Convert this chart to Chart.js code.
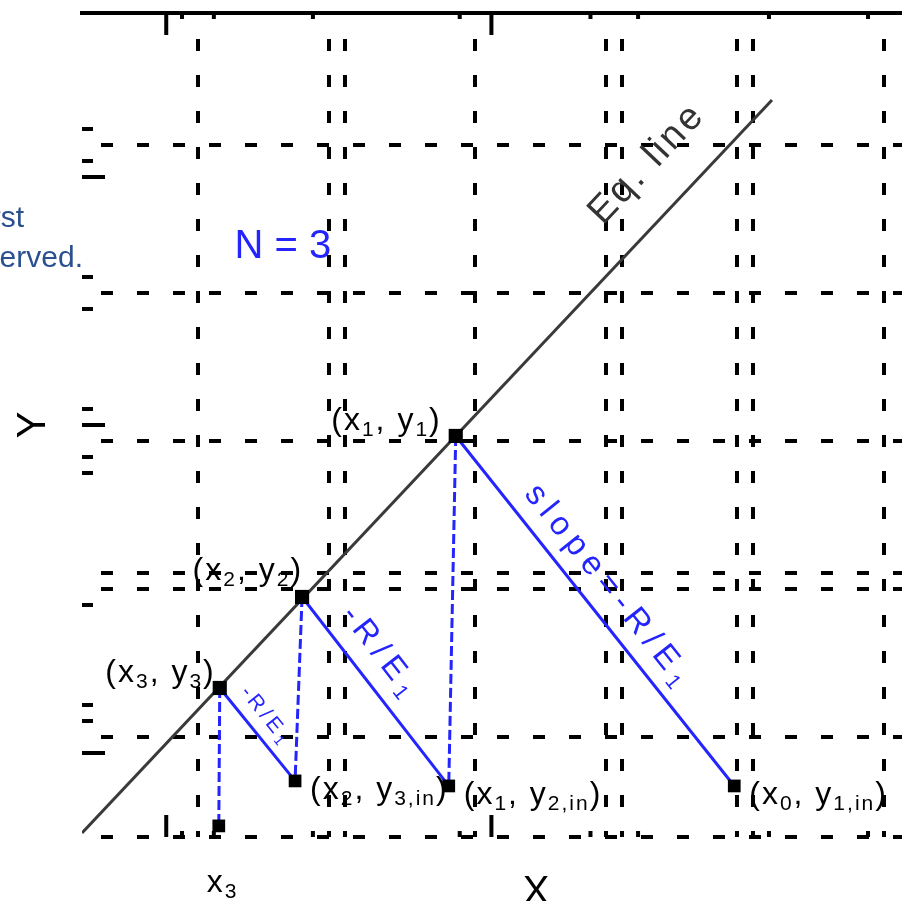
<!DOCTYPE html>
<html>
<head>
<meta charset="utf-8">
<script src="https://cdn.jsdelivr.net/npm/chart.js@4.4.1/dist/chart.umd.min.js"></script>
<style>
  html, body { margin: 0; padding: 0; overflow: hidden; background: #fff; }
  #wrap { position: relative; width: 1000px; height: 917px; }
</style>
</head>
<body>
<div id="wrap"><canvas id="chart"></canvas></div>
<script>
// equilibrium line (end points)
const eqX = [0.155, 5.184];
const eqY = [0.351, 5.304];
// stage points on the eq. line: (x1,y1), (x2,y2), (x3,y3)
const stageX = [2.879, 1.759, 1.159];
const stageY = [3.034, 1.946, 1.331];
// incoming points: (x0,y1,in), (x1,y2,in), (x2,y3,in)
const inX = [4.909, 2.828, 1.708];
const inY = [0.669, 0.669, 0.703];
// foot of the last drop line
const footX = [1.152];
const footY = [0.399];

const stageLabels = ['(x_{1}, y_{1})', '(x_{2}, y_{2})', '(x_{3}, y_{3})'];
const inLabels = ['(x_{0}, y_{1,in})', '(x_{1}, y_{2,in})', '(x_{2}, y_{3,in})'];
const slopeLabels = ['slope=-R/E_{1}', '-R/E_{1}', '-R/E_{1}'];
const footLabel = 'x_{3}';
const stageCount = 'N = 3';
const eqLabel = 'Eq. line';

// grid / tick positions
const xGridTicks = [1.0, 1.954, 2.069, 3.023, 3.977, 4.092, 4.931, 5.046, 6.0];
const yGridTicks = [0.324, 1.0, 2.0, 2.108, 3.0, 4.0, 5.0];
const xMinorTicks = [0.884, 1.116, 1.838, 2.908, 3.861, 4.208, 5.162, 5.884];
const xMajorTicks = [0.769, 3.139];
const yMinorTicks = [5.108, 4.892, 4.108, 3.892, 3.216, 2.892, 2.784, 1.892, 1.216, 1.108];
const yMajorTicks = [4.784, 3.108, 0.892];

// annotation anchors (data units)
const eqLabelAt = [4.259, 4.885];
const countAt = [1.267, 4.236];
const slopeAt = [[4.013, 2.020], [2.351, 1.574], [1.506, 1.149]];

// label offsets / sizes (pixels)
const stageDX = [-14, 1, -4];
const stageDY = [-6, -17, -6];
const slopeSize = [33, 32, 21];
const slopeSpacing = [7, 7, 4];

const FONT = '"Liberation Sans", Arial, sans-serif';
const BLUE = '#2424ff';

function drawRich(ctx, str, x, y, size, align, spacing) {
  const parts = str.split(/_\{([^}]*)\}/);
  const sub = Math.round(size * 0.65);
  ctx.letterSpacing = (spacing || 0) + 'px';
  const w = parts.map((p, i) => {
    ctx.font = (i % 2 ? sub : size) + 'px ' + FONT;
    return ctx.measureText(p).width;
  });
  const total = w.reduce((a, b) => a + b, 0);
  let cx = align === 'right' ? x - total : align === 'center' ? x - total / 2 : x;
  ctx.textAlign = 'left';
  ctx.textBaseline = 'alphabetic';
  parts.forEach((p, i) => {
    ctx.font = (i % 2 ? sub : size) + 'px ' + FONT;
    ctx.fillText(p, cx, i % 2 ? y + size * 0.2 : y);
    cx += w[i];
  });
  ctx.letterSpacing = '0px';
}

function drawRotated(ctx, str, x, y, angle, size, spacing) {
  ctx.save();
  ctx.translate(x, y);
  ctx.rotate(angle);
  drawRich(ctx, str, 0, size * 0.35, size, 'center', spacing);
  ctx.restore();
}

const annotate = {
  id: 'annotate',
  afterDatasetsDraw(chart) {
    const {ctx, chartArea: a, scales: {x, y}} = chart;
    const px = v => x.getPixelForValue(v);
    const py = v => y.getPixelForValue(v);
    ctx.save();

    // inward tick marks
    ctx.strokeStyle = '#000';
    ctx.lineWidth = 4;
    ctx.beginPath();
    xMinorTicks.forEach(v => {
      ctx.moveTo(px(v), a.top); ctx.lineTo(px(v), a.top + 6);
      ctx.moveTo(px(v), a.bottom); ctx.lineTo(px(v), a.bottom - 6);
    });
    xMajorTicks.forEach(v => {
      ctx.moveTo(px(v), a.top); ctx.lineTo(px(v), a.top + 22);
      ctx.moveTo(px(v), a.bottom); ctx.lineTo(px(v), a.bottom - 22);
    });
    yMinorTicks.forEach(v => { ctx.moveTo(a.left, py(v)); ctx.lineTo(a.left + 11, py(v)); });
    yMajorTicks.forEach(v => { ctx.moveTo(a.left, py(v)); ctx.lineTo(a.left + 23, py(v)); });
    ctx.stroke();

    // point labels
    ctx.fillStyle = '#000';
    stageLabels.forEach((t, i) => drawRich(ctx, t, px(stageX[i]) + stageDX[i], py(stageY[i]) + stageDY[i], 32, 'right', 2));
    inLabels.forEach((t, i) => drawRich(ctx, t, px(inX[i]) + 15, py(inY[i]) + 18, 32, 'left', 2));
    drawRich(ctx, footLabel, px(footX[0]) - 12, a.bottom + 55, 32, 'left', 2);

    // eq. line label
    ctx.fillStyle = '#333';
    const eqAngle = Math.atan2(py(eqY[1]) - py(eqY[0]), px(eqX[1]) - px(eqX[0]));
    drawRotated(ctx, eqLabel, px(eqLabelAt[0]), py(eqLabelAt[1]), eqAngle, 38, 3);

    // slope labels and stage count
    ctx.fillStyle = BLUE;
    slopeLabels.forEach((t, i) => {
      const ang = Math.atan2(py(inY[i]) - py(stageY[i]), px(inX[i]) - px(stageX[i]));
      drawRotated(ctx, t, px(slopeAt[i][0]), py(slopeAt[i][1]), ang, slopeSize[i], slopeSpacing[i]);
    });
    drawRich(ctx, stageCount, px(countAt[0]), py(countAt[1]), 40, 'left', 0);

    // cropped side note
    ctx.fillStyle = '#2b4f8f';
    ctx.font = '30px ' + FONT;
    ctx.textAlign = 'right';
    ctx.fillText('first', 24, 227);
    ctx.fillText('All rights reserved.', 83, 267);
    ctx.restore();
  }
};

const pts = (xs, ys) => xs.map((v, i) => ({x: v, y: ys[i]}));
const datasets = [];

datasets.push({
  data: pts(stageX, stageY), showLine: false, order: 0,
  pointStyle: 'rect', pointRadius: 10, backgroundColor: '#000', borderWidth: 0
});
datasets.push({
  data: pts(inX, inY).concat(pts(footX, footY)), showLine: false, order: 0,
  pointStyle: 'rect', pointRadius: 9, backgroundColor: '#000', borderWidth: 0
});
datasets.push({
  data: pts(eqX, eqY), showLine: true, order: 2,
  borderColor: '#3a3a3a', borderWidth: 3, pointRadius: 0
});
stageX.forEach((sx, i) => {
  // operating line with slope -R/E
  datasets.push({
    data: [{x: sx, y: stageY[i]}, {x: inX[i], y: inY[i]}], showLine: true, order: 1,
    borderColor: BLUE, borderWidth: 3, pointRadius: 0
  });
  // drop line to the next incoming point
  const tx = i < stageX.length - 1 ? inX[i + 1] : footX[0];
  const ty = i < stageX.length - 1 ? inY[i + 1] : footY[0];
  datasets.push({
    data: [{x: sx, y: stageY[i]}, {x: tx, y: ty}], showLine: true, order: 1,
    borderColor: BLUE, borderWidth: 3, borderDash: [10, 4], pointRadius: 0
  });
});

new Chart(document.getElementById('chart'), {
  type: 'scatter',
  data: {datasets},
  options: {
    responsive: true,
    maintainAspectRatio: false,
    animation: false,
    layout: {padding: {left: 0, top: 13, right: 2, bottom: 0}},
    plugins: {legend: {display: false}, tooltip: {enabled: false}},
    scales: {
      x: {
        type: 'linear', position: 'bottom', min: 0.155, max: 6.773,
        afterBuildTicks: s => { s.ticks = xGridTicks.map(v => ({value: v})); },
        ticks: {display: false},
        grid: {color: '#000', lineWidth: 4, drawTicks: false},
        border: {display: false, dash: [12, 24], dashOffset: 10},
        title: {display: true, text: 'X', color: '#000', font: {family: FONT, size: 40, lineHeight: 1.2}, padding: {top: 32, bottom: 0}}
      },
      xTop: {
        type: 'linear', position: 'top', min: 0.155, max: 6.773,
        ticks: {display: false},
        grid: {display: false, drawTicks: false},
        border: {display: true, color: '#000', width: 4}
      },
      y: {
        type: 'linear', position: 'left', min: 0.324, max: 5.892,
        afterBuildTicks: s => { s.ticks = yGridTicks.map(v => ({value: v})); },
        ticks: {display: false},
        grid: {color: '#000', lineWidth: 4, drawTicks: false},
        border: {display: false, dash: [12, 24], dashOffset: 17},
        title: {display: true, text: 'Y', color: '#000', font: {family: FONT, size: 40, lineHeight: 1.2}, padding: {top: 10, bottom: 24}}
      }
    }
  },
  plugins: [annotate]
});
</script>
</body>
</html>
